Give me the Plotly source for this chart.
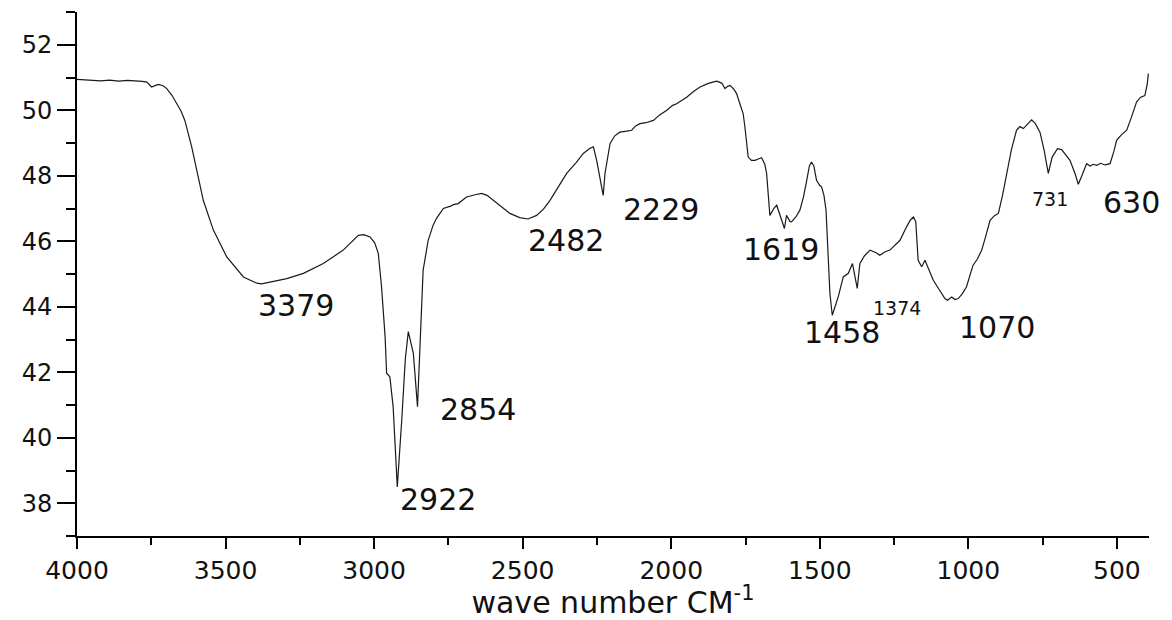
import plotly.graph_objects as go

# FTIR spectrum: wavenumber (cm-1) vs transmittance
wavenumber = [
    4000, 3960, 3920, 3890, 3860, 3830, 3800, 3780, 3765, 3749, 3735, 3726, 3710, 3698,
    3680, 3664, 3650, 3637, 3625, 3614, 3597, 3575, 3541, 3496, 3440, 3395, 3379, 3350,
    3294, 3238, 3171, 3104, 3053, 3035, 3014, 2998, 2986, 2975, 2963, 2958, 2947, 2936,
    2922, 2907, 2895, 2885, 2875, 2868, 2854, 2846, 2835, 2818, 2801, 2790, 2767, 2740,
    2733, 2717, 2689, 2660, 2638, 2620, 2599, 2570, 2543, 2510, 2482, 2453, 2430, 2408,
    2380, 2352, 2320, 2296, 2275, 2262, 2251, 2229, 2223, 2206, 2190, 2173, 2150, 2133,
    2120, 2105, 2085, 2060, 2040, 2015, 1995, 1982, 1965, 1948, 1925, 1903, 1875, 1847,
    1830, 1819, 1810, 1802, 1790, 1780, 1769, 1758, 1752, 1741, 1730, 1718, 1705, 1696,
    1685, 1679, 1668, 1655, 1645, 1635, 1619, 1612, 1600, 1595, 1580, 1567, 1555, 1544,
    1535, 1528, 1520, 1511, 1500, 1494, 1486, 1479, 1466, 1458, 1448, 1438, 1421, 1404,
    1390, 1383, 1374, 1365, 1350, 1331, 1310, 1298, 1280, 1264, 1245, 1230, 1208, 1195,
    1185, 1177, 1169, 1157, 1146, 1130, 1118, 1100, 1079, 1070, 1056, 1045, 1034, 1020,
    1006, 995, 984, 970, 955, 940, 927, 912, 899, 885, 871, 855, 838, 826,
    815, 800, 787, 775, 759, 745, 731, 718, 700, 686, 672, 658, 641, 630,
    618, 602, 590, 580, 568, 555, 540, 523, 510, 501, 485, 467, 451, 440,
    434, 420, 406, 398, 394,
]
transmittance = [
    50.94, 50.93, 50.90, 50.92, 50.89, 50.91, 50.90, 50.88, 50.86, 50.71, 50.76, 50.79, 50.75, 50.66,
    50.45, 50.20, 49.98, 49.69, 49.30, 48.88, 48.17, 47.25, 46.34, 45.52, 44.91, 44.72, 44.70, 44.76,
    44.86, 45.02, 45.32, 45.73, 46.18, 46.20, 46.13, 45.95, 45.63, 44.61, 43.08, 41.97, 41.86, 40.95,
    38.50, 40.54, 42.40, 43.24, 42.90, 42.58, 40.95, 42.58, 45.12, 46.03, 46.50, 46.70, 47.00, 47.08,
    47.12, 47.15, 47.35, 47.42, 47.46, 47.40, 47.25, 47.05, 46.85, 46.72, 46.68, 46.79, 46.98, 47.25,
    47.65, 48.07, 48.40, 48.68, 48.83, 48.88, 48.47, 47.40, 48.07, 48.98, 49.22, 49.33, 49.36, 49.39,
    49.52, 49.59, 49.62, 49.69, 49.85, 50.00, 50.15, 50.20, 50.30, 50.40, 50.57, 50.71, 50.82, 50.89,
    50.83, 50.66, 50.73, 50.76, 50.65, 50.51, 50.20, 49.90, 49.49, 48.57, 48.47, 48.47, 48.52, 48.55,
    48.35, 48.07, 46.79, 47.00, 47.10, 46.80, 46.39, 46.79, 46.60, 46.59, 46.75, 46.95, 47.35, 47.86,
    48.30, 48.42, 48.30, 47.86, 47.70, 47.66, 47.40, 46.95, 44.41, 43.74, 44.00, 44.30, 44.91, 45.02,
    45.32, 45.00, 44.56, 45.32, 45.55, 45.73, 45.65, 45.57, 45.68, 45.73, 45.90, 46.03, 46.44, 46.65,
    46.74, 46.60, 45.42, 45.22, 45.42, 45.05, 44.81, 44.55, 44.25, 44.20, 44.30, 44.22, 44.25, 44.40,
    44.61, 44.95, 45.27, 45.45, 45.73, 46.20, 46.64, 46.78, 46.85, 47.40, 48.07, 48.80, 49.39, 49.50,
    49.44, 49.60, 49.71, 49.60, 49.33, 48.78, 48.07, 48.57, 48.83, 48.80, 48.65, 48.47, 48.07, 47.74,
    48.00, 48.37, 48.30, 48.35, 48.32, 48.38, 48.33, 48.37, 48.75, 49.08, 49.25, 49.39, 49.79, 50.05,
    50.25, 50.40, 50.45, 50.80, 51.12,
]

# Band labels: text, label position (wavenumber, transmittance), font size
band_text = ["3379", "2922", "2854", "2482", "2229", "1619", "1458", "1374", "1070", "731", "630"]
band_x = [3263, 2785, 2650, 2354, 2035, 1631, 1425, 1240, 904, 725, 452]
band_y = [44.05, 38.10, 40.85, 46.03, 46.98, 45.76, 43.20, 43.97, 43.38, 47.30, 47.18]
band_size = [30, 30, 30, 30, 30, 30, 30, 19, 30, 19, 30]

x_ticks = [4000, 3500, 3000, 2500, 2000, 1500, 1000, 500]
y_ticks = [38, 40, 42, 44, 46, 48, 50, 52]

FONT = "DejaVu Sans"

fig = go.Figure()
fig.add_trace(go.Scatter(
    x=wavenumber, y=transmittance, mode="lines",
    line=dict(color="#1a1a1a", width=1.2),
    showlegend=False, hoverinfo="skip",
))

for t, x, y, s in zip(band_text, band_x, band_y, band_size):
    fig.add_annotation(x=x, y=y, text=t, showarrow=False,
                       font=dict(family=FONT, size=s, color="#111"),
                       xanchor="center", yanchor="middle")

fig.update_layout(
    width=1172, height=620,
    margin=dict(l=77, r=23, t=12, b=84),
    paper_bgcolor="white", plot_bgcolor="white",
    font=dict(family=FONT, color="#111"),
    xaxis=dict(
        range=[4000, 392], showgrid=False, zeroline=False, automargin=False,
        showline=True, linecolor="black", linewidth=2,
        tickmode="array", tickvals=x_ticks, ticktext=[str(v) for v in x_ticks],
        ticks="outside", ticklen=11, tickwidth=2, tickcolor="black",
        tickfont=dict(family=FONT, size=25, color="#111"),
        minor=dict(dtick=250, tick0=0, ticks="outside", ticklen=7, tickwidth=2, tickcolor="black"),
        title=dict(text="wave number CM<sup>-1</sup>", font=dict(family=FONT, size=30, color="#111")),
    ),
    yaxis=dict(
        range=[37, 53], showgrid=False, zeroline=False, automargin=False,
        showline=True, linecolor="black", linewidth=2,
        tickmode="array", tickvals=y_ticks, ticktext=[str(v) for v in y_ticks],
        ticks="outside", ticklen=18, tickwidth=2, tickcolor="black",
        tickfont=dict(family=FONT, size=24, color="#111"),
        minor=dict(dtick=1, tick0=37, ticks="outside", ticklen=9, tickwidth=2, tickcolor="black"),
    ),
)

fig.write_html("out.html")
